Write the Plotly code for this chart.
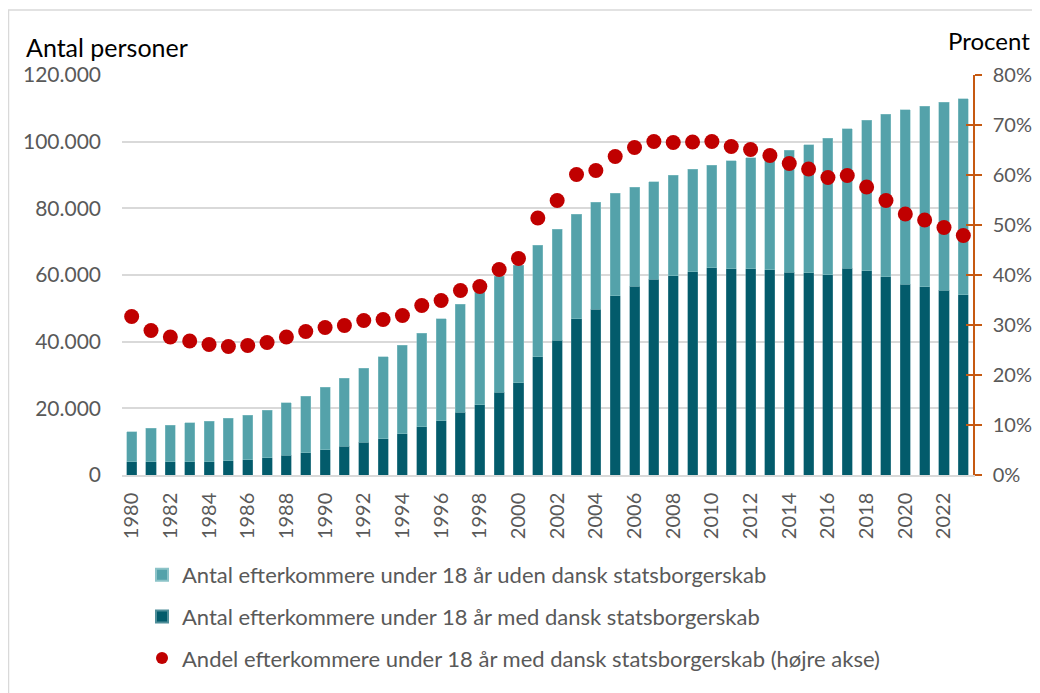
import plotly.graph_objects as go

years = list(range(1980, 2024))

# Antal efterkommere under 18 år med dansk statsborgerskab
med = [4000, 4000, 4000, 4000, 4000, 4300, 4600, 5200, 5900, 6700,
       7600, 8600, 9900, 10900, 12400, 14500, 16300, 18800, 21100, 24800,
       27700, 35500, 40500, 46900, 49800, 53800, 56700, 58800, 59800, 61000,
       62200, 61900, 61900, 61600, 60800, 60700, 60100, 62100, 61300, 59500,
       57200, 56500, 55400, 54100]

# Total antal efterkommere under 18 år
total = [13000, 14000, 14900, 15700, 16200, 17000, 18000, 19500, 21700, 23700,
         26300, 29000, 32100, 35500, 38900, 42500, 46900, 51300, 54800, 59700,
         63000, 68900, 73800, 78200, 81800, 84500, 86400, 88000, 89900, 91700,
         92900, 94300, 95200, 95000, 97500, 99100, 101100, 103900, 106400, 108200,
         109600, 110700, 111900, 112900]

# Antal efterkommere under 18 år uden dansk statsborgerskab
uden = [t - m for t, m in zip(total, med)]

# Andel med dansk statsborgerskab (%)
andel = [31.7, 28.9, 27.6, 26.8, 26.1, 25.7, 25.9, 26.5, 27.6, 28.7,
         29.5, 29.9, 30.9, 31.1, 31.9, 33.9, 34.9, 36.9, 37.7, 41.1,
         43.3, 51.4, 54.9, 60.1, 60.9, 63.7, 65.5, 66.7, 66.5, 66.6,
         66.7, 65.7, 65.1, 63.9, 62.3, 61.2, 59.5, 59.9, 57.6, 54.9,
         52.2, 51.0, 49.5, 47.9]

names = ["Antal efterkommere under 18 år uden dansk statsborgerskab",
         "Antal efterkommere under 18 år med dansk statsborgerskab",
         "Andel efterkommere under 18 år med dansk statsborgerskab (højre akse)"]

FONT = "Lato"
GREY = "#595959"
ORANGE = "#C65911"

# page offset of the figure (body margin 8px)
OFF = 8
PL, PT, PW, PH = 122, 75, 851, 400  # plot area in page pixels


def px(xp):
    return (xp - PL) / PW


def py(yp):
    return (PT + PH - yp) / PH


fig = go.Figure()
fig.add_trace(go.Bar(x=years, y=med, name=names[1], marker_color="#035B6B",
                     marker_line=dict(color="#4F8E99", width=0.5),
                     legendrank=2, legendgroup="b"))
fig.add_trace(go.Bar(x=years, y=uden, name=names[0], marker_color="#54A2AA",
                     marker_line=dict(color="#8CC3C8", width=0.5),
                     legendrank=1, legendgroup="a"))
fig.add_trace(go.Scatter(x=years, y=andel, name=names[2], mode="markers",
                         marker=dict(color="#C00000", size=15), yaxis="y2",
                         legendrank=3, legendgroup="c"))
fig.add_trace(go.Scatter(x=[], y=[], yaxis="y3", showlegend=False, hoverinfo="skip"))

W, H = 1040 - OFF, 693 - OFF
fig.update_layout(
    width=W, height=H,
    margin=dict(l=PL - OFF, r=W - (PL - OFF) - PW, t=PT - OFF, b=H - (PT - OFF) - PH,
                pad=0, autoexpand=False),
    paper_bgcolor="white", plot_bgcolor="white",
    separators=",.",
    barmode="stack", bargap=0.48,
    font=dict(family=FONT, size=21, color=GREY),
    xaxis=dict(range=[1979.5, 2023.5], tickmode="array",
               tickvals=years[::2], ticktext=[str(y) for y in years[::2]],
               tickangle=-90, showgrid=False, showline=True,
               linecolor="#D9D9D9", linewidth=1.5, ticks="", automargin=False,
               ticklabelstandoff=8, tickfont=dict(size=20, color=GREY)),
    yaxis=dict(range=[0, 120000], dtick=20000, tickformat=",d",
               showgrid=True, gridcolor="#D9D9D9", gridwidth=1.5,
               zeroline=False, showline=False, ticks="", automargin=False,
               ticklabelstandoff=20, tickfont=dict(size=21, color=GREY)),
    yaxis2=dict(range=[0, 80], dtick=10, ticksuffix="%", overlaying="y",
                side="right", showgrid=False, zeroline=False, automargin=False,
                showline=True, linecolor=ORANGE, linewidth=1.5,
                ticks="outside", ticklen=7, tickcolor=ORANGE, tickwidth=1.5,
                ticklabelstandoff=7, tickfont=dict(size=20, color=GREY)),
    yaxis3=dict(range=[0, 80], dtick=10, overlaying="y", side="right",
                showgrid=False, zeroline=False, showline=False, automargin=False,
                ticks="inside", ticklen=7, tickcolor=ORANGE, tickwidth=1.5,
                showticklabels=False),
    legend=dict(x=px(142), xanchor="left", y=py(554), yanchor="top",
                orientation="v", tracegroupgap=10, itemsizing="constant",
                font=dict(family=FONT, size=22, color="#595959"),
                bgcolor="rgba(0,0,0,0)"),
    showlegend=True,
)

fig.add_annotation(text="Antal personer", xref="paper", yref="paper",
                   x=px(24), y=py(47), xanchor="left", yanchor="middle",
                   showarrow=False, font=dict(family=FONT, size=25, color="#000000"))
fig.add_annotation(text="Procent", xref="paper", yref="paper",
                   x=px(1032), y=py(40), xanchor="right", yanchor="middle",
                   showarrow=False, font=dict(family=FONT, size=24, color="#000000"))

# frame lines (left and top)
fig.add_shape(type="line", xref="paper", yref="paper",
              x0=px(8), x1=px(1045), y0=py(10), y1=py(10),
              line=dict(color="#D9D9D9", width=1.5))
fig.add_shape(type="line", xref="paper", yref="paper",
              x0=px(8.5), x1=px(8.5), y0=py(10), y1=py(700),
              line=dict(color="#D9D9D9", width=1.5))

fig.write_html("out.html")
